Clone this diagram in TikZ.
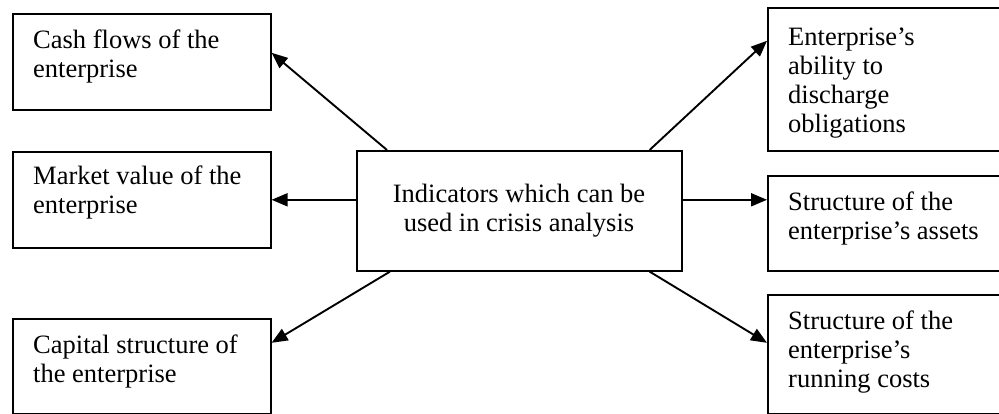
\documentclass[tikz,border=0pt]{standalone}
\usepackage{fontspec}
\setmainfont{Liberation Serif}
\usetikzlibrary{arrows.meta,calc}
\begin{document}
\begin{tikzpicture}[x=1pt,y=-1pt,
  box/.style={draw,line width=1.6pt,rectangle,inner sep=0pt,anchor=north west},
  txt/.style={inner sep=0pt,align=left,anchor=base west,font=\fontsize{26.5pt}{29pt}\selectfont},
  ctxt/.style={inner sep=0pt,align=center,anchor=base,font=\fontsize{26.5pt}{29pt}\selectfont},
  arr/.style={line width=1.9pt,-{Triangle[length=16pt,width=13pt]}}]
\clip (0,0) rectangle (999,414);
\fill[white] (0,0) rectangle (999,414);
% boxes
\node[box,minimum width=258pt,minimum height=96pt] (cash) at (12,13) {};
\node[box,minimum width=258pt,minimum height=96pt] (market) at (12,151) {};
\node[box,minimum width=258pt,minimum height=95pt] (capital) at (12,318) {};
\node[box,minimum width=325pt,minimum height=120pt] (ctr) at (356,150) {};
\node[box,minimum width=250pt,minimum height=143pt] (ability) at (767,7) {};
\node[box,minimum width=250pt,minimum height=95pt] (assets) at (767,175) {};
\node[box,minimum width=250pt,minimum height=119pt] (running) at (767,294) {};
% texts (anchored at the baseline of the last line)
\node[txt] (cashT) at (33,77.5) {Cash flows of the\\enterprise};
\node[txt] (marketT) at (33,214) {Market value of the\\enterprise};
\node[txt] (capitalT) at (33,382) {Capital structure of\\the enterprise};
\node[ctxt] (ctrT) at (519,232) {Indicators which can be\\used in crisis analysis};
\node[txt] (abilityT) at (788,133) {Enterprise’s\\ability to\\discharge\\obligations};
\node[txt] (assetsT) at (788,240) {Structure of the\\enterprise’s assets};
\node[txt] (runningT) at (788,387) {Structure of the\\enterprise’s\\running costs};
% arrows
\draw[arr] ([xshift=31pt]ctr.north west) -- ([yshift=9pt]cash.east);
\draw[arr] ([yshift=11pt]ctr.west) -- ([yshift=0pt]market.east);
\draw[arr] ([xshift=34pt]ctr.south west) -- ([yshift=23.5pt]capital.east);
\draw[arr] ([xshift=-33pt]ctr.north east) -- ([yshift=38.5pt]ability.west);
\draw[arr] ([yshift=11pt]ctr.east) -- ([yshift=23.5pt]assets.west);
\draw[arr] ([xshift=-33pt]ctr.south east) -- ([yshift=11.5pt]running.west);
\end{tikzpicture}
\end{document}
